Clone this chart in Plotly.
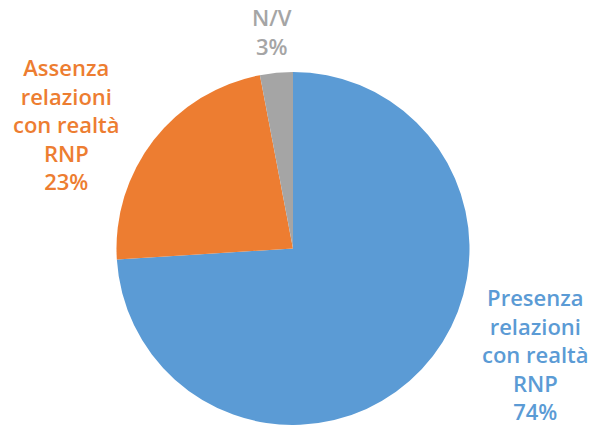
import plotly.graph_objects as go

labels = ["Presenza relazioni con realtà RNP", "Assenza relazioni con realtà RNP", "N/V"]
values = [74, 23, 3]
label_lines = [["Presenza", "relazioni", "con realtà", "RNP"],
               ["Assenza", "relazioni", "con realtà", "RNP"],
               ["N/V"]]
colors = ["#5B9BD5", "#ED7D31", "#A5A5A5"]

W, H = 589, 425

fig = go.Figure(go.Pie(
    labels=labels, values=values, sort=False, direction="clockwise", rotation=0,
    marker=dict(colors=colors, line=dict(width=0)),
    textinfo="none", hoverinfo="label+percent",
    domain=dict(x=[116 / W, 470 / W], y=[0, 353 / H]),
    showlegend=False,
))

# label positions (pixel centers)
pos = [(535, 354), (66, 124), (272, 31)]
for (x, y), lines, v, c in zip(pos, label_lines, values, colors):
    fig.add_annotation(
        x=x / W, y=1 - y / H, xref="paper", yref="paper",
        text="<br>".join(lines + [f"{v}%"]), showarrow=False,
        xanchor="center", yanchor="middle", align="center",
        font=dict(family="Open Sans", size=22, color=c, weight=600),
    )

fig.update_layout(
    width=W, height=H, margin=dict(l=0, r=0, t=0, b=0),
    paper_bgcolor="white", plot_bgcolor="white",
)
fig.write_html("out.html", post_script="document.body.style.margin='0';",
               config={"displayModeBar": False})
